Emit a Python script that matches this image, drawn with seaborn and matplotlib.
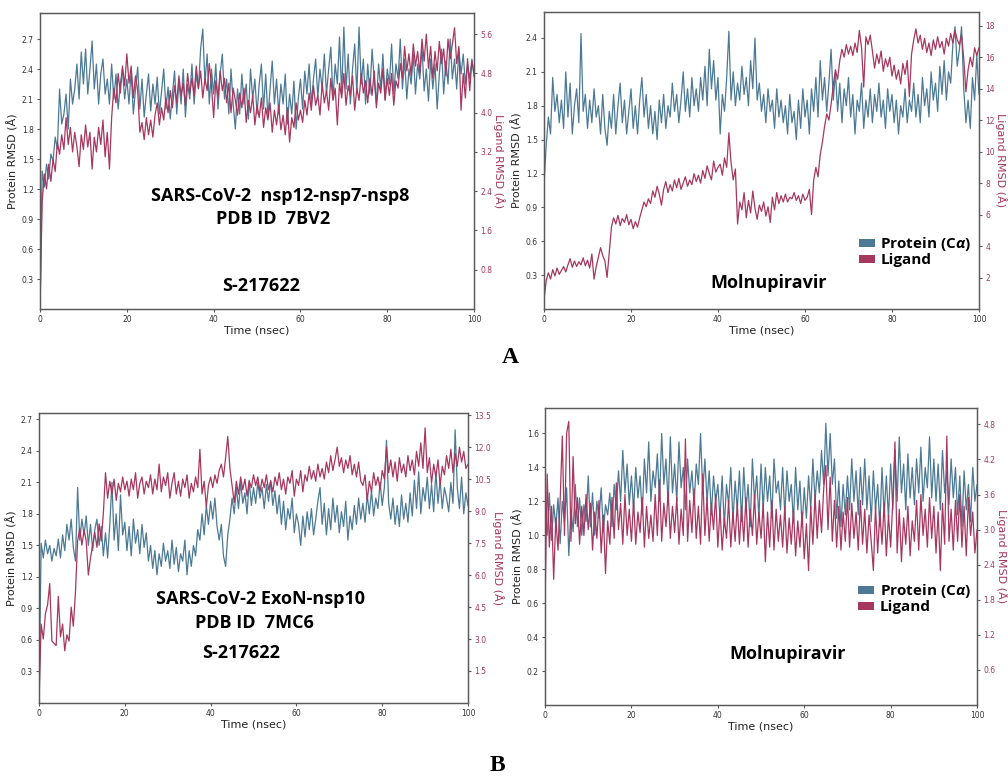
import numpy as np
import matplotlib
matplotlib.use("Agg")
import matplotlib.pyplot as plt
from matplotlib.patches import Patch
import seaborn as sns

# Simulation time axis (ns), sampled every 0.5 ns
time_ns = np.linspace(0, 100, 201)

# ---- Panel A, left: S-217622 in nsp12-nsp7-nsp8 (7BV2) ----
prot_a_s217622 = [
    0.00,
    1.38, 1.22, 1.45, 1.30, 1.55, 1.48, 1.72, 1.60, 2.20, 1.85,
    1.95, 2.15, 1.80, 2.30, 2.05, 2.20, 2.45, 2.10, 2.57, 2.25,
    2.60, 2.15, 2.40, 2.68, 2.20, 2.45, 2.05, 2.35, 2.50, 2.15,
    2.30, 2.05, 2.45, 2.10, 2.35, 2.00, 2.25, 2.40, 2.10, 2.30,
    2.05, 2.38, 1.95, 2.20, 2.42, 2.00, 2.30, 1.92, 2.15, 2.35,
    1.98, 2.25, 2.05, 2.32, 1.95, 2.18, 2.40, 2.00, 2.22, 1.90,
    2.15, 2.38, 1.95, 2.28, 2.05, 2.40, 1.92, 2.25, 2.10, 2.45,
    2.05, 2.35, 2.20, 2.60, 2.80, 2.25, 2.55, 2.05, 2.40, 2.15,
    2.45, 2.00, 2.35, 2.55, 2.10, 2.30, 1.95, 2.40, 2.05, 1.80,
    2.20, 1.95, 2.35, 2.05, 2.25, 1.90, 2.40, 2.10, 2.30, 1.95,
    2.25, 2.45, 2.00, 2.35, 1.92, 2.20, 2.48, 2.05, 2.30, 1.95,
    2.25, 2.05, 2.35, 1.85, 2.15, 1.95, 2.28, 1.80, 2.10, 2.30,
    2.00, 2.38, 2.15, 2.45, 2.05, 2.30, 2.50, 2.12, 2.40, 2.20,
    2.55, 2.15, 2.40, 2.62, 2.10, 2.45, 2.25, 2.72, 2.15, 2.82,
    2.20, 2.55, 2.05, 2.40, 2.65, 2.15, 2.82, 2.25, 2.50, 2.05,
    2.45, 2.15, 2.60, 2.30, 2.05, 2.45, 2.20, 2.55, 2.10, 2.40,
    2.25, 2.65, 2.15, 2.45, 2.30, 2.70, 2.20, 2.50, 2.10, 2.40,
    2.25, 2.55, 2.15, 2.45, 2.30, 2.62, 2.18, 2.40, 2.08, 2.50,
    2.20, 2.45, 2.00, 2.35, 2.60, 2.15, 2.48, 2.25, 2.70, 2.30,
    2.50, 2.20, 2.60, 2.35, 2.55, 2.25, 2.45, 2.30, 2.50, 2.32,
]
lig_a_s217622 = [
    0.00,
    2.20, 2.75, 2.45, 2.95, 2.60, 3.05, 2.80, 3.40, 3.15, 3.55,
    3.25, 3.90, 3.35, 3.70, 3.20, 3.60, 3.30, 2.90, 3.55, 3.25,
    3.75, 3.30, 3.60, 2.85, 3.50, 3.20, 3.70, 3.35, 3.85, 3.10,
    3.60, 2.85, 3.90, 4.50, 4.20, 4.80, 4.40, 4.95, 4.55, 5.20,
    4.60, 4.95, 4.30, 4.75, 4.45, 3.60, 3.80, 3.45, 3.90, 3.55,
    3.85, 3.50, 3.95, 4.20, 3.75, 4.10, 3.85, 4.30, 4.00, 4.45,
    4.10, 4.55, 4.20, 4.75, 4.35, 4.60, 4.15, 4.80, 4.40, 4.70,
    4.35, 4.95, 4.50, 4.85, 4.30, 4.70, 4.45, 5.00, 4.55, 3.90,
    4.65, 4.30, 4.85, 4.45, 4.70, 4.20, 4.60, 4.00, 4.50, 4.25,
    3.95, 4.40, 4.10, 4.50, 3.80, 4.25, 4.00, 4.35, 3.75, 4.15,
    3.90, 4.30, 3.70, 4.10, 3.85, 4.20, 3.60, 4.05, 3.75, 4.15,
    3.65, 3.95, 3.55, 4.10, 3.40, 3.90, 3.70, 4.20, 3.85, 4.05,
    3.80, 4.25, 3.95, 4.40, 4.05, 4.55, 4.15, 4.35, 3.95, 4.60,
    4.20, 4.45, 4.05, 4.70, 4.25, 4.50, 3.75, 4.60, 4.30, 4.80,
    4.15, 4.55, 4.35, 4.75, 4.05, 4.50, 4.25, 4.80, 4.40, 4.65,
    4.20, 4.70, 4.35, 4.85, 4.10, 4.60, 4.40, 4.90, 4.25, 4.70,
    4.35, 4.80, 4.15, 4.65, 4.50, 5.00, 4.70, 5.35, 4.85, 5.20,
    4.75, 5.40, 4.95, 5.25, 4.80, 5.50, 5.05, 5.60, 4.90, 5.35,
    4.70, 5.25, 4.85, 5.45, 5.00, 5.30, 4.75, 5.50, 5.10, 5.40,
    5.73, 5.00, 5.35, 4.05, 4.80, 4.30, 5.10, 4.45, 5.05, 4.80,
]

# ---- Panel A, right: Molnupiravir in nsp12-nsp7-nsp8 ----
prot_a_molnu = [
    1.10,
    1.45, 1.70, 1.55, 2.05, 1.75, 1.90, 1.65, 1.85, 1.60, 2.10,
    1.70, 2.00, 1.55, 1.80, 1.95, 1.65, 2.44, 1.75, 1.90, 1.60,
    1.85, 1.65, 1.95, 1.70, 1.80, 1.55, 1.90, 1.60, 1.45, 1.75,
    1.60, 1.90, 1.55, 1.80, 2.00, 1.65, 1.85, 1.55, 1.75, 1.95,
    1.60, 1.80, 1.55, 1.85, 2.05, 1.70, 1.90, 1.60, 1.80, 1.55,
    1.75, 1.50, 1.85, 1.65, 1.90, 1.60, 1.80, 1.70, 2.00, 1.75,
    1.90, 1.65, 1.85, 2.10, 1.75, 1.95, 1.70, 2.05, 1.80, 1.95,
    1.75, 2.05, 1.85, 2.15, 1.80, 2.30, 1.95, 2.20, 1.85, 2.05,
    1.55, 1.90, 1.75, 2.05, 2.46, 1.85, 2.10, 1.80, 2.00, 1.85,
    2.15, 1.90, 2.05, 1.80, 2.20, 1.95, 2.40, 1.85, 2.00, 1.75,
    1.90, 1.65, 1.95, 1.75, 1.85, 1.60, 1.95, 1.70, 1.85, 1.65,
    1.80, 1.55, 1.90, 1.65, 1.75, 1.50, 1.85, 1.60, 1.95, 1.70,
    1.85, 1.55, 1.95, 1.75, 2.05, 1.70, 2.20, 1.85, 2.05, 1.75,
    2.00, 2.30, 1.85, 2.10, 1.75, 2.00, 1.65, 1.95, 1.80, 2.05,
    1.70, 1.90, 1.55, 1.85, 1.75, 2.00, 1.60, 1.85, 1.70, 1.95,
    1.65, 1.90, 1.75, 2.00, 1.70, 1.85, 1.60, 1.95, 1.75, 1.90,
    1.65, 1.85, 1.55, 1.80, 1.70, 1.95, 1.65, 1.85, 1.75, 2.00,
    1.70, 1.90, 1.65, 2.05, 1.80, 1.95, 1.70, 2.10, 1.85, 2.00,
    1.75, 2.15, 1.90, 2.20, 1.85, 2.10, 2.00, 2.35, 2.50, 2.15,
    2.30, 2.50, 1.95, 1.65, 1.85, 1.60, 2.05, 1.85, 2.25, 1.90,
]
lig_a_molnu = [
    0.60,
    1.80, 2.30, 1.90, 2.50, 2.10, 2.60, 2.20, 2.45, 2.70, 2.35,
    2.80, 3.20, 2.65, 3.05, 2.70, 3.00, 2.80, 3.25, 2.75, 3.10,
    2.60, 3.50, 1.90, 2.70, 3.30, 3.90, 3.40, 3.05, 2.00, 3.60,
    5.20, 5.80, 5.40, 5.95, 5.30, 5.75, 5.50, 6.00, 5.35, 5.70,
    5.10, 5.55, 5.20, 5.80, 6.30, 6.80, 6.50, 7.00, 6.70, 7.50,
    7.10, 7.80, 7.30, 6.60, 7.60, 8.10, 7.40, 7.90, 7.50, 8.20,
    7.70, 8.30, 7.60, 8.00, 8.40, 7.80, 8.20, 7.90, 8.60, 8.10,
    8.50, 8.00, 8.80, 8.30, 9.10, 8.60, 8.20, 9.40, 8.70, 9.00,
    9.20, 8.50, 9.60, 9.00, 11.20, 9.30, 8.20, 8.90, 5.40, 6.80,
    6.30, 7.40, 5.80, 6.90, 6.10, 7.50, 6.40, 5.70, 6.60, 6.20,
    6.80, 5.90, 6.50, 5.50, 7.10, 6.30, 7.40, 6.70, 7.20, 6.80,
    7.30, 6.80, 7.10, 7.00, 7.40, 6.90, 7.20, 6.70, 7.30, 6.90,
    7.10, 7.60, 6.00, 8.20, 9.00, 8.40, 9.80, 10.60, 11.60, 12.40,
    12.00, 13.00, 14.20, 15.20, 14.60, 15.80, 16.50, 16.00, 16.80, 16.20,
    16.70, 16.10, 16.90, 16.30, 17.70, 16.60, 14.10, 17.30, 16.80, 17.40,
    16.40, 15.30, 16.20, 15.60, 16.40, 15.10, 15.90, 15.40, 16.00, 14.80,
    15.50, 14.60, 15.20, 14.30, 15.60, 14.90, 15.80, 13.50, 16.20, 17.10,
    17.80, 16.90, 17.40, 16.50, 17.20, 16.30, 16.90, 16.10, 17.10, 16.50,
    17.30, 16.60, 17.00, 16.20, 17.20, 16.70, 17.50, 16.90, 17.70, 17.10,
    16.80, 17.40, 15.90, 13.80, 15.20, 16.00, 15.40, 16.60, 16.10, 16.60,
]

# ---- Panel B, left: S-217622 in ExoN-nsp10 (7MC6) ----
prot_b_s217622 = [
    0.00,
    1.52, 1.38, 1.55, 1.42, 1.50, 1.35, 1.47, 1.40, 1.56, 1.38,
    1.60, 1.45, 1.70, 1.55, 1.75, 1.48, 1.35, 2.05, 1.55, 1.75,
    1.60, 1.78, 1.50, 1.70, 1.45, 1.65, 1.75, 1.50, 1.68, 1.40,
    1.62, 1.38, 1.70, 2.10, 1.55, 1.80, 1.45, 1.98, 1.60, 1.72,
    1.45, 1.68, 1.40, 1.75, 1.52, 1.65, 1.42, 1.70, 1.48, 1.62,
    1.35, 1.50, 1.28, 1.45, 1.22, 1.42, 1.30, 1.52, 1.35, 1.45,
    1.28, 1.55, 1.32, 1.48, 1.25, 1.42, 1.35, 1.55, 1.22, 1.45,
    1.30, 1.50, 1.40, 1.65, 1.55, 1.80, 1.60, 1.88, 1.70, 1.92,
    1.75, 1.95, 1.68, 1.55, 1.70, 1.40, 1.30, 1.60, 1.75, 1.95,
    1.80, 2.05, 1.85, 2.10, 1.90, 2.00, 1.80, 2.12, 1.88, 2.05,
    1.90, 2.10, 1.95, 2.05, 1.85, 2.08, 1.92, 2.12, 1.88, 2.02,
    1.80, 1.98, 1.70, 1.92, 1.65, 1.85, 1.75, 1.95, 1.62, 1.80,
    1.70, 1.50, 1.78, 1.58, 1.82, 1.65, 1.85, 1.60, 1.75, 1.92,
    2.05, 1.70, 1.90, 1.60, 1.85, 1.65, 1.95, 1.72, 1.88, 1.62,
    1.82, 1.68, 1.92, 1.55, 1.78, 1.65, 1.88, 1.70, 1.95, 1.75,
    1.90, 1.72, 1.98, 1.80, 2.02, 1.78, 1.95, 1.85, 2.10, 1.88,
    2.05, 2.50, 1.90, 1.75, 1.95, 1.70, 1.88, 1.68, 1.98, 1.75,
    1.90, 1.72, 2.00, 1.78, 2.12, 1.85, 2.20, 1.80, 2.05, 1.92,
    2.15, 1.85, 2.08, 1.82, 2.20, 1.90, 2.12, 1.85, 2.05, 1.95,
    1.82, 2.10, 1.90, 2.60, 2.05, 1.85, 2.15, 1.80, 2.00, 1.88,
]
lig_b_s217622 = [
    0.00,
    3.70, 3.00, 4.20, 4.60, 5.60, 2.90, 2.80, 2.70, 5.00, 3.10,
    3.70, 2.45, 3.20, 2.90, 4.50, 3.60, 5.20, 7.60, 8.20, 7.40,
    8.10, 7.60, 6.00, 6.80, 7.40, 8.00, 7.30, 8.40, 7.60, 8.90,
    10.80, 9.60, 10.40, 9.80, 10.50, 9.50, 10.30, 9.90, 10.60, 10.00,
    10.40, 9.70, 10.50, 10.00, 10.80, 9.60, 10.30, 10.60, 9.80, 10.40,
    10.10, 10.70, 9.80, 10.50, 10.00, 11.20, 9.90, 10.60, 10.20, 10.80,
    9.60, 10.30, 10.80, 9.80, 10.40, 9.70, 10.50, 10.10, 10.70, 9.60,
    10.30, 9.90, 10.60, 10.10, 11.90, 9.80, 10.40, 9.20, 10.20, 10.60,
    10.10, 10.70, 10.30, 10.90, 11.20, 10.60, 11.50, 12.50, 11.00, 10.20,
    9.40, 10.40, 9.80, 10.60, 10.00, 10.50, 9.70, 10.40, 10.10, 10.70,
    10.20, 10.60, 9.90, 10.50, 10.10, 10.70, 10.00, 10.40, 9.90, 10.60,
    10.20, 10.80, 10.00, 10.50, 9.80, 10.60, 10.30, 10.90, 9.70, 10.50,
    10.20, 10.90, 9.90, 10.70, 10.40, 11.10, 10.50, 10.90, 10.40, 11.20,
    10.60, 11.00, 10.50, 11.30, 10.80, 11.60, 10.90, 11.40, 12.00, 11.10,
    11.50, 10.80, 11.40, 11.00, 11.60, 10.70, 11.20, 10.60, 11.30, 10.40,
    10.20, 10.70, 9.50, 10.40, 9.90, 10.80, 10.20, 10.60, 10.00, 10.90,
    10.50, 12.00, 10.80, 11.40, 10.60, 11.30, 10.40, 11.50, 10.80, 11.20,
    10.60, 11.60, 10.90, 11.40, 10.70, 11.80, 11.10, 12.20, 11.00, 12.90,
    10.80, 11.50, 10.30, 11.20, 10.60, 11.40, 10.20, 11.10, 10.70, 11.60,
    11.00, 11.90, 10.80, 11.70, 11.10, 12.00, 11.30, 11.80, 11.00, 11.20,
]

# ---- Panel B, right: Molnupiravir in ExoN-nsp10 ----
prot_b_molnu = [
    1.10,
    1.00, 1.25, 0.97, 1.18, 1.05, 1.22, 0.95, 1.20, 1.08, 1.28,
    0.88, 1.15, 1.02, 1.30, 1.05, 1.22, 1.00, 1.18, 1.08, 1.35,
    1.05, 1.25, 1.00, 1.20, 1.10, 1.28, 1.02, 1.18, 1.12, 1.25,
    1.05, 1.30, 1.15, 1.38, 1.20, 1.50, 1.25, 1.42, 1.18, 1.35,
    1.15, 1.40, 1.22, 1.35, 1.12, 1.45, 1.25, 1.55, 1.20, 1.38,
    1.28, 1.48, 1.20, 1.60, 1.30, 1.45, 1.18, 1.58, 1.25, 1.42,
    1.20, 1.55, 1.28, 1.40, 1.15, 1.45, 1.25, 1.38, 1.18, 1.42,
    1.30, 1.60, 1.25, 1.45, 1.20, 1.38, 1.12, 1.35, 1.20, 1.30,
    1.10, 1.35, 1.05, 1.30, 1.18, 1.40, 1.08, 1.32, 1.15, 1.38,
    1.08, 1.40, 1.15, 1.30, 1.05, 1.45, 1.20, 1.35, 1.10, 1.42,
    1.15, 1.40, 1.20, 1.35, 1.10, 1.45, 1.25, 1.32, 1.15, 1.40,
    1.12, 1.38, 1.20, 1.30, 1.08, 1.40, 1.15, 1.32, 1.05, 1.28,
    1.10, 1.35, 1.15, 1.45, 1.20, 1.38, 1.25, 1.50, 1.30, 1.66,
    1.35, 1.60, 1.30, 1.45, 1.10, 1.32, 1.05, 1.30, 1.12, 1.35,
    1.15, 1.45, 1.20, 1.38, 1.12, 1.40, 1.18, 1.45, 1.15, 1.35,
    1.08, 1.38, 1.15, 1.30, 1.05, 1.40, 1.12, 1.35, 1.10, 1.42,
    1.15, 1.50, 1.20, 1.58, 1.25, 1.42, 1.15, 1.48, 1.22, 1.40,
    1.18, 1.45, 1.25, 1.52, 1.20, 1.40, 1.28, 1.58, 1.22, 1.45,
    1.20, 1.42, 1.15, 1.50, 1.25, 1.38, 1.18, 1.45, 1.22, 1.40,
    1.12, 1.35, 1.05, 1.38, 1.15, 1.30, 1.08, 1.40, 1.20, 1.30,
]
lig_b_molnu = [
    1.70,
    3.95, 2.70, 3.40, 2.15, 3.20, 2.65, 3.50, 4.60, 2.90, 4.65,
    4.85, 2.80, 4.25, 3.10, 3.55, 2.75, 3.40, 2.90, 3.60, 3.00,
    3.45, 2.65, 3.30, 2.85, 3.50, 2.60, 3.25, 2.25, 3.15, 2.75,
    3.55, 2.85, 3.80, 3.00, 3.45, 2.75, 3.60, 2.90, 3.35, 2.80,
    3.50, 2.75, 3.30, 2.95, 3.55, 2.70, 3.40, 2.85, 3.25, 2.80,
    3.60, 2.90, 3.85, 2.80, 3.45, 3.05, 3.65, 2.85, 3.40, 2.95,
    3.55, 2.75, 3.35, 2.90, 4.55, 2.80, 3.50, 2.95, 3.70, 2.85,
    3.40, 2.75, 3.95, 2.90, 3.55, 2.80, 3.45, 3.00, 3.60, 2.70,
    3.35, 2.65, 3.20, 2.85, 3.50, 2.70, 3.30, 2.80, 3.45, 2.75,
    3.40, 2.80, 3.55, 2.70, 3.35, 2.90, 3.60, 2.75, 3.30, 2.85,
    3.45, 2.45, 3.30, 2.70, 3.50, 2.65, 3.35, 2.80, 3.25, 2.70,
    3.40, 2.60, 3.20, 2.75, 3.35, 2.55, 3.15, 2.70, 3.30, 2.50,
    3.10, 2.30, 3.40, 2.75, 3.60, 2.85, 3.50, 2.95, 3.70, 4.10,
    3.00, 3.90, 2.80, 3.50, 2.70, 3.40, 2.65, 3.30, 2.80, 3.55,
    2.70, 3.45, 2.85, 3.30, 2.65, 3.50, 2.75, 3.35, 2.60, 3.25,
    2.80, 2.30, 3.40, 2.60, 3.30, 2.75, 3.45, 2.55, 3.25, 2.70,
    3.50, 4.50, 2.60, 3.35, 2.45, 3.20, 2.75, 3.40, 2.55, 3.15,
    2.80, 3.50, 2.65, 3.60, 2.90, 3.35, 2.70, 3.55, 2.85, 3.40,
    2.60, 3.30, 2.30, 3.45, 2.75, 4.60, 2.80, 3.35, 2.65, 3.50,
    2.80, 3.60, 2.70, 3.40, 2.55, 3.55, 2.90, 3.30, 2.60, 3.00,
]

# Axis ticks for each panel
x_ticks = [0, 20, 40, 60, 80, 100]
prot_ticks_a_s = [0.3, 0.6, 0.9, 1.2, 1.5, 1.8, 2.1, 2.4, 2.7]
lig_ticks_a_s = [0.8, 1.6, 2.4, 3.2, 4.0, 4.8, 5.6]
prot_ticks_a_m = [0.3, 0.6, 0.9, 1.2, 1.5, 1.8, 2.1, 2.4]
lig_ticks_a_m = [2, 4, 6, 8, 10, 12, 14, 16, 18]
prot_ticks_b_s = [0.3, 0.6, 0.9, 1.2, 1.5, 1.8, 2.1, 2.4, 2.7]
lig_ticks_b_s = [1.5, 3.0, 4.5, 6.0, 7.5, 9.0, 10.5, 12.0, 13.5]
prot_ticks_b_m = [0.2, 0.4, 0.6, 0.8, 1.0, 1.2, 1.4, 1.6]
lig_ticks_b_m = [0.6, 1.2, 1.8, 2.4, 3.0, 3.6, 4.2, 4.8]

sns.set_theme(style="ticks")
plt.rcParams.update({
    "font.family": ["DejaVu Sans"],
    "mathtext.fontset": "custom",
    "mathtext.rm": "Open Sans:bold",
    "mathtext.it": "Open Sans:italic:bold",
    "axes.edgecolor": "#5a5a5a",
    "axes.linewidth": 0.9,
    "xtick.color": "#5a5a5a",
    "ytick.color": "#5a5a5a",
    "xtick.major.size": 2.5,
    "ytick.major.size": 2.5,
    "xtick.major.width": 0.8,
    "ytick.major.width": 0.8,
    "xtick.major.pad": 2,
    "ytick.major.pad": 2,
})

PROT_COLOR = "#4c7995"
LIG_COLOR = "#a6375f"
TICK_FS = 5.5
LABEL_FS = 8
NOTE_FS = 13
NOTE_FONT = "Open Sans"

fig = plt.figure(figsize=(10.08, 7.76), dpi=100)


def fmt(vals, digits):
    return [f"{v:.{digits}f}" for v in vals]


def panel(rect, prot, lig, pticks, plim, pdig, lticks, llim, ldig):
    ax = fig.add_axes(rect)
    sns.lineplot(x=time_ns, y=prot, ax=ax, color=PROT_COLOR, lw=0.9)
    ax.set_xlim(0, 100)
    ax.set_ylim(*plim)
    ax.set_xticks(x_ticks)
    ax.set_xticklabels([str(v) for v in x_ticks], fontsize=TICK_FS, color="#333333")
    ax.set_yticks(pticks)
    ax.set_yticklabels(fmt(pticks, pdig), fontsize=TICK_FS, color="#333333")
    ax.set_xlabel("Time (nsec)", fontsize=LABEL_FS, labelpad=1, color="#222222")
    ax.set_ylabel("Protein RMSD (Å)", fontsize=LABEL_FS, labelpad=2, color="#222222")

    ax2 = ax.twinx()
    sns.lineplot(x=time_ns, y=lig, ax=ax2, color=LIG_COLOR, lw=0.9)
    ax2.set_ylim(*llim)
    ax2.set_yticks(lticks)
    ax2.set_yticklabels(fmt(lticks, ldig), fontsize=TICK_FS, color=LIG_COLOR)
    ax2.set_ylabel("Ligand RMSD (Å)", fontsize=LABEL_FS, color=LIG_COLOR,
                   rotation=270, labelpad=9)
    for a in (ax, ax2):
        for s in a.spines.values():
            s.set_visible(True)
            s.set_color("#5a5a5a")
    return ax, ax2


def legend(ax, x, y):
    handles = [Patch(facecolor=PROT_COLOR, edgecolor="none"),
               Patch(facecolor=LIG_COLOR, edgecolor="none")]
    ax.legend(handles, [r"Protein (C$\alpha$)", "Ligand"],
              loc="center left", bbox_to_anchor=(x, y), frameon=False,
              prop={"family": NOTE_FONT, "weight": "bold", "size": 11},
              labelcolor="black",
              handlelength=1.05, handleheight=0.45, handletextpad=0.35,
              labelspacing=0.0, borderpad=0, borderaxespad=0)


def note(ax, x, y, s):
    ax.text(x, y, s, transform=ax.transAxes, ha="center", va="center",
            fontsize=NOTE_FS, fontweight="bold", family=NOTE_FONT, color="black")


# Panel A left
axA1, axA1r = panel([0.0397, 0.6018, 0.4306, 0.3814], prot_a_s217622, lig_a_s217622,
                    prot_ticks_a_s, (0, 2.96), 1, lig_ticks_a_s, (0, 6.03), 1)
note(axA1r, 0.553, 0.382, "SARS-CoV-2  nsp12-nsp7-nsp8")
note(axA1r, 0.537, 0.304, "PDB ID  7BV2")
note(axA1r, 0.509, 0.078, "S-217622")

# Panel A right
axA2, axA2r = panel([0.5397, 0.6018, 0.4315, 0.3827], prot_a_molnu, lig_a_molnu,
                    prot_ticks_a_m, (0, 2.63), 1, lig_ticks_a_m, (0, 18.87), 0)
note(axA2r, 0.517, 0.088, "Molnupiravir")
legend(axA2r, 0.724, 0.195)

# Panel B left
axB1, axB1r = panel([0.0387, 0.0941, 0.4256, 0.3737], prot_b_s217622, lig_b_s217622,
                    prot_ticks_b_s, (0, 2.76), 1, lig_ticks_b_s, (0, 13.6), 1)
note(axB1r, 0.517, 0.359, "SARS-CoV-2 ExoN-nsp10")
note(axB1r, 0.503, 0.276, "PDB ID  7MC6")
note(axB1r, 0.471, 0.172, "S-217622")

# Panel B right
axB2, axB2r = panel([0.5407, 0.0915, 0.4286, 0.3827], prot_b_molnu, lig_b_molnu,
                    prot_ticks_b_m, (0, 1.75), 1, lig_ticks_b_m, (0, 5.08), 1)
note(axB2r, 0.5625, 0.172, "Molnupiravir")
legend(axB2r, 0.725, 0.36)

# Row labels
fig.text(0.506, 0.539, "A", ha="center", va="center", fontsize=17,
         fontweight="bold", family="Liberation Serif", color="black")
fig.text(0.493, 0.014, "B", ha="center", va="center", fontsize=17,
         fontweight="bold", family="Liberation Serif", color="black")

fig.savefig("out.png", dpi=100, facecolor="white")
